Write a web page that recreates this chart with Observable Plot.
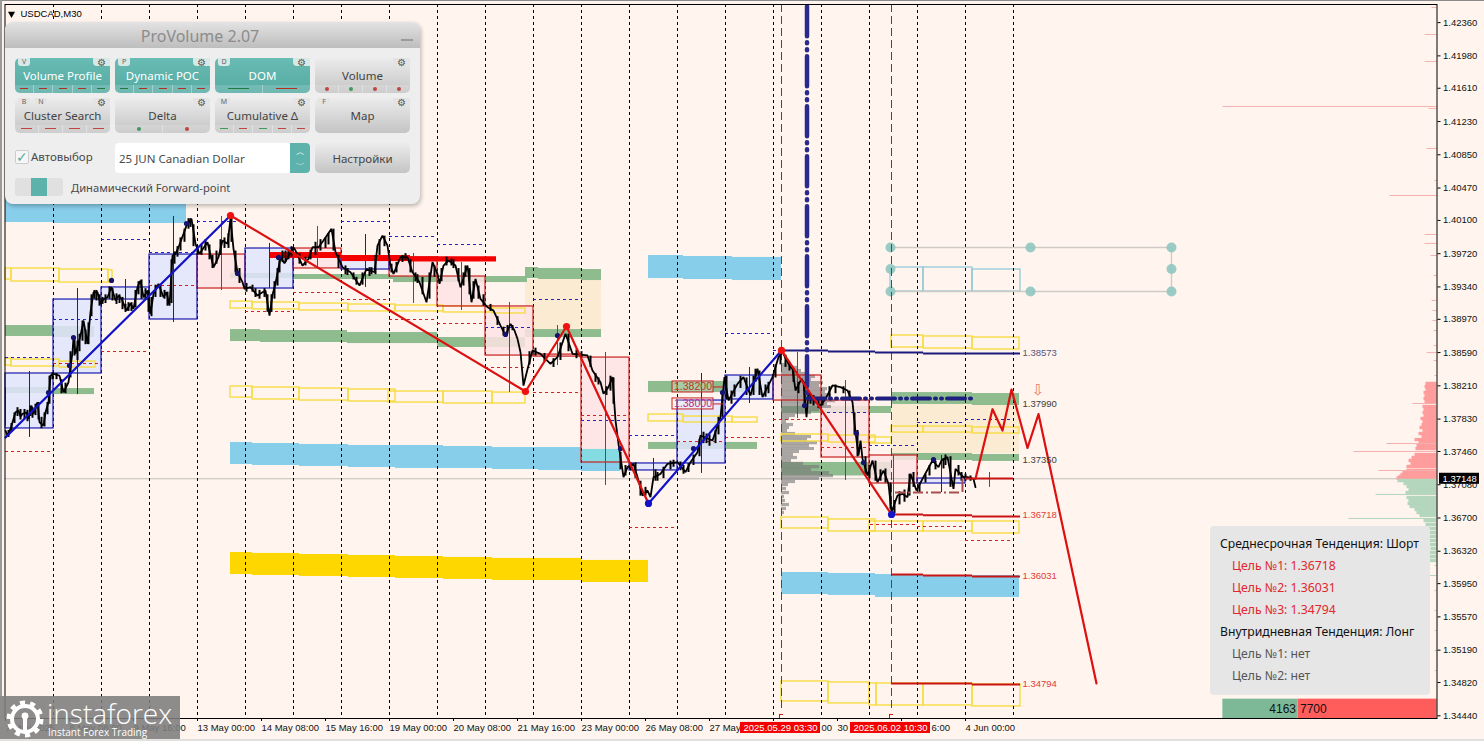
<!DOCTYPE html>
<html lang="ru">
<head>
<meta charset="utf-8">
<title>USDCAD,M30</title>
<script src="https://cdn.jsdelivr.net/npm/d3@7"></script>
<script src="https://cdn.jsdelivr.net/npm/@observablehq/plot@0.6"></script>
<style>
html,body{margin:0;padding:0;background:#FFF5EE;width:1484px;height:741px;overflow:hidden;font-family:"Liberation Sans",sans-serif}
#chart{position:absolute;left:0;top:0}
.edge{position:absolute;background:#9a9a9a}
#panel{position:absolute;left:5px;top:22px;width:415px;height:182px;border-radius:8px;background:#eeeeee;box-shadow:1px 2px 4px rgba(0,0,0,.28);font-family:"Noto Sans","Open Sans",sans-serif;color:#4a4a4a}
#ptitle{position:absolute;left:0;top:0;width:100%;height:26px;box-sizing:border-box;padding-right:25px;border-radius:8px 8px 0 0;background:linear-gradient(#e3e3e3,#bdbdbd);text-align:center;font-size:16px;line-height:28px;color:#8c8c8c}
#ptitle span{position:absolute;left:396px;top:17px;width:12px;height:2px;background:#9a9a9a}
.btn{position:absolute;width:95px;height:35px;border-radius:5px;font-size:11.5px;text-align:center;line-height:36px;background:linear-gradient(#ececec,#c4c4c4);color:#444}
.btn.on{background:linear-gradient(#69bcb4,#54aaa2);color:#fff}
.tab{position:absolute;top:0;height:8px;background:#e4e4e4;font-size:7px;line-height:8px;color:#666;border-radius:0 0 3px 3px;text-align:center;width:12px}
.gear{position:absolute;right:0;top:0;width:17px;height:8px;background:#e4e4e4;border-radius:0 0 0 4px;color:#555;font-size:10px;line-height:8px}
.strip{position:absolute;left:0;bottom:0;width:100%;height:8px;display:flex;background:rgba(255,255,255,.16);border-radius:0 0 5px 5px}
.strip i{flex:1;position:relative;display:block;border-right:1px solid rgba(255,255,255,.35)}
.strip i:last-child{border:0}
.strip i b{position:absolute;left:28%;right:28%;top:3px;height:1.2px}
.strip i u{position:absolute;left:50%;top:2px;width:4px;height:4px;margin-left:-2px;border-radius:50%}
.abs{position:absolute;white-space:nowrap}
#info{position:absolute;left:1210px;top:526px;width:220px;height:169px;border-radius:4px;background:#E6E6E6;font-family:"Noto Sans","Open Sans",sans-serif;font-size:12.2px}
#logo{position:absolute;left:0;top:696px;width:180px;height:45px;background:rgba(125,125,125,.88);color:#fff;font-family:"Open Sans",Lato,sans-serif}
</style>
</head>
<body>
<div id="chart"></div>
<script>
// x is a running count of M30 bars, y is the USDCAD price
const priceTicks=[1.4236,1.4198,1.4161,1.4123,1.4085,1.4047,1.401,1.3972,1.3934,1.3897,1.3859,1.3821,1.3783,1.3746,1.3708,1.367,1.3632,1.3595,1.3557,1.3519,1.3482,1.3444];
const timeTickBars=[5,69,133,197,261,325,389,453,517,581,645,709,773,837,901,965];
const timeTickLabels=["7 May 2025","8 May 08:00","9 May 16:00","13 May 00:00","14 May 08:00","15 May 16:00","19 May 00:00","20 May 08:00","21 May 16:00","23 May 00:00","26 May 08:00","27 May","","30","","4 Jun 00:00"];
const timeScraps=[[821,"00"],[931,"6:00"]];
const dayBars=[53,101,149,197,245,293,341,389,437,485,533,581,629,677,725,773,821,869,917,965,1013];
const pricePath=[[5,1.37698],[7,1.37640],[10,1.37717],[13,1.37832],[15,1.37908],[18,1.37927],[20,1.37860],[22,1.37889],[26,1.37908],[28,1.37832],[31,1.37984],[33,1.37889],[37,1.38022],[39,1.37794],[43,1.37755],[45,1.37908],[48,1.38022],[50,1.38327],[53,1.38346],[59,1.38327],[63,1.38136],[68,1.38251],[72,1.38594],[73,1.38765],[75,1.38575],[80,1.38784],[83,1.38956],[87,1.38689],[90,1.39051],[93,1.39279],[97,1.39279],[100,1.39146],[103,1.39200],[107,1.39222],[111,1.39337],[115,1.39184],[118,1.39240],[121,1.39203],[126,1.39070],[130,1.39150],[133,1.39089],[137,1.39337],[140,1.39413],[143,1.39222],[147,1.39298],[150,1.39032],[153,1.39260],[158,1.39375],[163,1.39222],[166,1.39279],[169,1.39127],[172,1.39699],[175,1.39718],[178,1.39794],[183,1.39946],[186,1.40041],[191,1.40118],[195,1.39832],[199,1.39718],[207,1.39851],[213,1.39565],[218,1.39680],[222,1.39870],[227,1.39832],[230,1.40118],[233,1.39775],[237,1.39508],[242,1.39394],[244,1.39318],[250,1.39337],[257,1.39241],[262,1.39280],[265,1.39299],[269,1.39013],[272,1.39250],[275,1.39379],[280,1.39676],[284,1.39610],[290,1.39733],[293,1.39791],[295,1.39756],[302,1.39584],[308,1.39661],[312,1.39794],[318,1.39794],[323,1.39870],[331,1.40004],[335,1.39737],[342,1.39565],[350,1.39508],[359,1.39356],[366,1.39546],[374,1.39508],[377,1.39813],[382,1.39927],[387,1.39813],[390,1.39584],[393,1.39489],[400,1.39680],[407,1.39680],[412,1.39508],[419,1.39394],[426,1.39165],[432,1.39623],[437,1.39489],[439,1.39375],[443,1.39584],[448,1.39642],[455,1.39584],[460,1.39337],[467,1.39584],[471,1.39165],[475,1.39432],[480,1.39203],[487,1.39108],[493,1.39070],[500,1.38899],[505,1.38784],[510,1.38918],[514,1.38842],[517,1.38746],[520,1.38594],[523,1.38213],[527,1.38400],[532,1.38614],[540,1.38576],[550,1.38462],[557,1.38538],[565,1.38805],[572,1.38576],[587,1.38557],[592,1.38386],[600,1.38252],[603,1.38119],[608,1.38195],[612,1.38309],[615,1.37814],[618,1.37547],[623,1.37166],[627,1.37281],[633,1.37319],[638,1.37128],[642,1.36957],[647,1.37014],[650,1.36938],[653,1.37166],[660,1.37204],[667,1.37319],[677,1.37338],[685,1.37223],[690,1.37338],[697,1.37452],[700,1.37643],[712,1.37585],[720,1.37852],[724,1.38309],[728,1.38043],[737,1.38233],[743,1.38309],[750,1.38100],[757,1.38405],[762,1.38081],[772,1.38309],[778,1.38538],[782,1.38595],[787,1.38481],[790,1.38424],[792,1.38404],[795,1.38157],[801,1.38290],[803,1.38252],[806,1.37852],[808,1.38138],[815,1.38023],[820,1.37985],[825,1.38061],[832,1.38214],[840,1.38195],[847,1.38157],[852,1.38023],[855,1.37680],[858,1.37414],[860,1.37585],[862,1.37376],[867,1.37185],[872,1.37357],[877,1.37109],[883,1.37242],[888,1.37090],[891,1.36766],[897,1.36957],[902,1.36976],[907,1.36938],[910,1.37204],[916,1.37014],[922,1.37147],[932,1.37357],[938,1.37280],[941,1.37357],[947,1.37395],[953,1.37033],[955,1.37261],[963,1.37166],[967,1.37166],[973,1.37147],[975,1.37052]];
const priceRangesA=[[8,1.3770,1.3762],[11,1.3778,1.3768],[14,1.3790,1.3778],[17,1.3796,1.3786],[20,1.3794,1.3782],[24,1.3794,1.3783],[27,1.3793,1.3780],[30,1.3798,1.3786],[32,1.3796,1.3784],[35,1.3800,1.3787],[38,1.3802,1.3782],[41,1.3785,1.3772],[44,1.3790,1.3774],[47,1.3802,1.3788],[49,1.3832,1.3800],[52,1.3836,1.3828],[56,1.3835,1.3828],[61,1.3828,1.3812],[65,1.3824,1.3812],[70,1.3860,1.3830],[74,1.3876,1.3855],[77,1.3872,1.3850],[79,1.3880,1.3860],[82,1.3895,1.3872],[85,1.3885,1.3868],[88,1.3893,1.3868],[91,1.3925,1.3900],[94,1.3930,1.3920],[96,1.3930,1.3918],[99,1.3925,1.3912],[102,1.3922,1.3914],[105,1.3925,1.3915],[109,1.3934,1.3920],[112,1.3932,1.3918],[116,1.3926,1.3914],[119,1.3925,1.3915],[122,1.3922,1.3908],[125,1.3914,1.3905],[128,1.3916,1.3906],[131,1.3916,1.3906],[135,1.3930,1.3910],[138,1.3940,1.3925],[141,1.3942,1.3920],[145,1.3932,1.3920],[148,1.3930,1.3905],[151,1.3922,1.3900],[155,1.3936,1.3922],[160,1.3935,1.3922],[164,1.3930,1.3920],[167,1.3928,1.3912],[171,1.3965,1.3915],[174,1.3974,1.3960],[177,1.3980,1.3968],[180,1.3990,1.3975],[184,1.4000,1.3985],[188,1.4012,1.4000],[190,1.4012,1.4002],[193,1.4005,1.3980],[197,1.3980,1.3970],[201,1.3982,1.3970],[205,1.3988,1.3975],[209,1.3982,1.3965],[212,1.3970,1.3955],[216,1.3975,1.3960],[220,1.3988,1.3970],[224,1.3990,1.3978],[228,1.3995,1.3978],[231,1.4012,1.3985],[235,1.3975,1.3950],[239,1.3955,1.3938],[246,1.3938,1.3928],[252,1.3936,1.3928],[255,1.3932,1.3922],[259,1.3930,1.3920],[264,1.3932,1.3922],[267,1.3925,1.3905],[271,1.3925,1.3905],[274,1.3940,1.3920],[277,1.3955,1.3935],[279,1.3968,1.3950],[282,1.3975,1.3962],[285,1.3975,1.3962],[288,1.3976,1.3965],[291,1.3980,1.3968]];
const priceRangesB=[[299,1.3972,1.3960],[305,1.3968,1.3958],[310,1.3976,1.3965],[315,1.3985,1.3970],[320,1.3988,1.3975],[325,1.3990,1.3978],[328,1.3995,1.3982],[333,1.4000,1.3975],[338,1.3970,1.3955],[345,1.3958,1.3948],[347,1.3955,1.3947],[353,1.3950,1.3942],[356,1.3945,1.3936],[362,1.3950,1.3936],[369,1.3956,1.3946],[371,1.3956,1.3948],[375,1.3970,1.3948],[379,1.3988,1.3970],[384,1.3992,1.3980],[391,1.3960,1.3950],[396,1.3962,1.3950],[402,1.3970,1.3962],[405,1.3972,1.3964],[410,1.3965,1.3950],[415,1.3950,1.3940],[417,1.3948,1.3938],[422,1.3945,1.3925],[429,1.3950,1.3920],[434,1.3958,1.3945],[441,1.3955,1.3940],[446,1.3968,1.3958],[451,1.3966,1.3958],[453,1.3965,1.3955],[458,1.3955,1.3940],[463,1.3950,1.3935],[465,1.3958,1.3945],[469,1.3955,1.3925],[473,1.3940,1.3920],[478,1.3935,1.3920],[483,1.3925,1.3912],[490,1.3914,1.3906],[497,1.3900,1.3890],[503,1.3888,1.3878],[507,1.3890,1.3880],[512,1.3890,1.3884],[529,1.3860,1.3845],[535,1.3864,1.3855],[544,1.3858,1.3848],[553,1.3852,1.3842],[560,1.3870,1.3850],[568,1.3880,1.3860],[576,1.3862,1.3852],[581,1.3860,1.3853],[590,1.3855,1.3842],[595,1.3835,1.3825],[598,1.3830,1.3822],[606,1.3820,1.3810],[610,1.3832,1.3815],[613,1.3830,1.3800],[620,1.3745,1.3725],[625,1.3730,1.3718],[630,1.3733,1.3724],[635,1.3733,1.3715],[640,1.3712,1.3695],[645,1.3705,1.3695]];
const priceRangesC=[[655,1.3725,1.3712],[657,1.3722,1.3712],[663,1.3728,1.3715],[670,1.3735,1.3725],[673,1.3736,1.3728],[680,1.3734,1.3724],[683,1.3730,1.3720],[688,1.3732,1.3722],[693,1.3742,1.3730],[699,1.3760,1.3740],[703,1.3768,1.3755],[706,1.3766,1.3755],[709,1.3765,1.3752],[715,1.3770,1.3755],[718,1.3785,1.3765],[722,1.3815,1.3785],[726,1.3832,1.3805],[731,1.3815,1.3800],[734,1.3822,1.3808],[740,1.3832,1.3818],[746,1.3830,1.3810],[753,1.3832,1.3810],[755,1.3840,1.3825],[759,1.3838,1.3810],[765,1.3822,1.3808],[768,1.3825,1.3812],[775,1.3845,1.3830],[780,1.3860,1.3845],[785,1.3856,1.3842],[789,1.3848,1.3838],[793,1.3840,1.3825],[798,1.3825,1.3812],[804,1.3825,1.3800],[810,1.3812,1.3800],[813,1.3810,1.3798],[818,1.3804,1.3795],[822,1.3805,1.3798],[829,1.3820,1.3805],[835,1.3822,1.3812],[843,1.3820,1.3812],[849,1.3815,1.3805],[854,1.3790,1.3765],[857,1.3770,1.3740],[865,1.3740,1.3720],[869,1.3730,1.3715],[875,1.3735,1.3712],[880,1.3725,1.3712],[885,1.3726,1.3710],[890,1.3710,1.3680],[894,1.3690,1.3675],[899,1.3700,1.3685],[904,1.3702,1.3688],[909,1.3720,1.3695],[913,1.3722,1.3705],[919,1.3710,1.3698],[925,1.3720,1.3710],[929,1.3730,1.3718],[935,1.3735,1.3725],[943,1.3738,1.3726],[945,1.3742,1.3730],[950,1.3740,1.3705],[958,1.3730,1.3718],[961,1.3722,1.3712],[965,1.3720,1.3712],[970,1.3718,1.3712]];
const pivotDots=[[48,1.38134],[69,1.38442],[73,1.38762],[111,1.39414],[186,1.40065],[237,1.39494],[278,1.39677],[505,1.38797],[557,1.38785],[620,1.37494],[693,1.37494],[722,1.38134],[804,1.37985],[856,1.37666],[863,1.37334],[933,1.37368]];
const blueCandles=[[5,53,1.38351,1.37723],[53,101,1.39196,1.38351],[101,149,1.39334,1.39196],[149,197,1.39710,1.38968],[245,293,1.39779,1.39322],[341,389,1.39677,1.39539],[629,677,1.37323,1.37243],[677,725,1.38042,1.37323],[725,773,1.38328,1.38054],[917,965,1.37151,1.37094]];
const blueWicks=[[29,1.38374,1.37620],[77,1.39322,1.38110],[125,1.39425,1.39048],[173,1.40145,1.38933],[269,1.39837,1.39322],[365,1.39939,1.39334],[653,1.37380,1.37151],[701,1.38351,1.37209],[749,1.38420,1.38008],[941,1.37414,1.36991]];
const redCandles=[[197,245,1.39710,1.39322],[293,341,1.39779,1.39551],[389,437,1.39677,1.39459],[437,485,1.39459,1.39117],[485,533,1.39117,1.38556],[533,581,1.38567,1.38544],[581,629,1.38533,1.37334],[773,821,1.38328,1.38042],[821,869,1.38042,1.37391],[869,917,1.37414,1.37094]];
const redWicks=[[5,1.38187,1.37755],[221,1.40145,1.39299],[317,1.40031,1.39551],[413,1.39722,1.39151],[461,1.39619,1.39071],[509,1.39162,1.38133],[557,1.38899,1.38442],[605,1.38591,1.37071],[797,1.38591,1.37837],[845,1.38271,1.37128],[893,1.37414,1.36786],[989,1.37220,1.37049]];
const blueDashes=[[5,52,1.38533],[53,100,1.38968],[101,147,1.39882],[149,196,1.39733],[197,243,1.40088],[341,388,1.40088],[389,435,1.39917],[437,483,1.39825],[485,530,1.38876],[533,578,1.39196],[581,628,1.37814],[629,675,1.37642],[725,772,1.38808],[773,785,1.38614],[821,867,1.37905],[869,915,1.37528],[917,962,1.37791],[965,1011,1.37825]];
const redDashes=[[5,50,1.37460],[53,100,1.38465],[101,147,1.38602],[149,196,1.39356],[245,290,1.39059],[293,340,1.39276],[341,388,1.39196],[389,435,1.38968],[437,483,1.38922],[485,530,1.38420],[533,578,1.38133],[581,628,1.37871],[629,675,1.36591],[677,723,1.37574],[725,772,1.37620],[773,820,1.37825],[821,867,1.37505],[870,916,1.36626],[917,963,1.36603],[965,1011,1.36443]];
const yellowBoxes=[[5,11,1.39551,1.39425],[11,59,1.39551,1.39402],[59,108,1.39539,1.39390],[108,112,1.39528,1.39390],[5,11,1.38521,1.38441],[11,59,1.38510,1.38431],[59,95,1.38487,1.38419],[230,252,1.39173,1.39094],[252,299,1.39162,1.39083],[299,348,1.39150,1.39071],[348,395,1.39139,1.39060],[395,443,1.39128,1.39060],[443,492,1.39117,1.39048],[492,525,1.39094,1.39037],[230,252,1.38202,1.38076],[252,299,1.38191,1.38054],[299,348,1.38179,1.38042],[348,395,1.38168,1.38031],[388,443,1.38145,1.38019],[443,492,1.38145,1.38008],[492,525,1.38133,1.38008],[648,683,1.37882,1.37803],[683,732,1.37859,1.37791],[732,757,1.37848,1.37791],[781,828,1.37654,1.37574],[828,875,1.37642,1.37562],[868,891,1.37620,1.37551],[781,828,1.36706,1.36580],[828,875,1.36683,1.36546],[869,923,1.36660,1.36546],[923,972,1.36660,1.36546],[972,1019,1.36660,1.36523],[891,923,1.38785,1.38648],[923,972,1.38774,1.38636],[972,1019,1.38762,1.38625],[891,923,1.37745,1.37676],[923,972,1.37745,1.37676],[972,1019,1.37734,1.37665],[781,828,1.34832,1.34604],[828,869,1.34821,1.34581],[869,876,1.34809,1.34558],[876,923,1.34809,1.34558],[923,972,1.34809,1.34558],[972,1020,1.34798,1.34547]];
const cyanBoxes=[[890,923,1.39562,1.39288],[923,972,1.39562,1.39288],[972,1020,1.39539,1.39288]];
const skyBands=[[5,53,1.40385,1.40076],[53,186,1.40385,1.40065],[230,252,1.37563,1.37311],[252,299,1.37551,1.37300],[299,348,1.37540,1.37289],[348,395,1.37528,1.37277],[395,443,1.37528,1.37266],[443,492,1.37517,1.37266],[492,538,1.37505,1.37254],[538,581,1.37505,1.37243],[581,620,1.37483,1.37231],[648,683,1.39699,1.39436],[683,732,1.39688,1.39425],[732,781,1.39677,1.39413],[781,828,1.36077,1.35826],[828,875,1.36066,1.35815],[875,923,1.36054,1.35792],[923,1019,1.36043,1.35792]];
const goldBands=[[230,252,1.36306,1.36054],[252,299,1.36295,1.36043],[299,348,1.36283,1.36032],[348,395,1.36272,1.36020],[395,443,1.36260,1.36009],[443,492,1.36249,1.35998],[492,581,1.36238,1.35986],[581,648,1.36215,1.35963]];
const greenBands=[[5,53,1.38899,1.38774],[53,94,1.38888,1.38762],[5,53,1.38191,1.38122],[53,94,1.38179,1.38110],[230,293,1.39494,1.39436],[293,393,1.39482,1.39425],[393,527,1.39459,1.39390],[230,260,1.38853,1.38716],[260,347,1.38842,1.38705],[347,437,1.38819,1.38693],[437,525,1.38762,1.38648],[525,538,1.39562,1.39436],[538,581,1.39551,1.39425],[581,601,1.39539,1.39413],[525,601,1.38853,1.38762],[648,757,1.38260,1.38133],[648,757,1.37563,1.37483],[781,891,1.37974,1.37894],[781,891,1.37334,1.37180],[891,972,1.38133,1.37997],[972,1019,1.38122,1.37985],[891,972,1.37437,1.37357],[972,1019,1.37426,1.37346]];
const beigeBands=[[525,601,1.39425,1.38853],[891,1019,1.37997,1.37437]];
const tintBands=[[581,620,1.37483,1.37334]];
const strongBars=[[270,341,1.39733,1.39665],[341,410,1.39699,1.39630],[410,496,1.39685,1.39625]];
const profile=[[1.38454,10],[1.38420,16],[1.38385,20],[1.38351,26],[1.38317,34],[1.38282,30],[1.38248,42],[1.38214,38],[1.38179,46],[1.38145,44],[1.38110,50],[1.38076,47],[1.38042,54],[1.38008,46],[1.37974,50],[1.37939,38],[1.37905,30],[1.37871,14],[1.37837,8],[1.37802,5],[1.37768,12],[1.37734,8],[1.37699,6],[1.37665,14],[1.37631,30],[1.37596,26],[1.37562,36],[1.37528,28],[1.37494,33],[1.37460,18],[1.37425,12],[1.37391,16],[1.37357,10],[1.37323,22],[1.37288,38],[1.37254,30],[1.37220,48],[1.37185,52],[1.37151,38],[1.37117,14],[1.37082,7],[1.37037,5],[1.36991,8],[1.36946,3],[1.36900,4],[1.36854,8],[1.36809,5],[1.36763,3]];
const askBook=[[1.38237,11],[1.38202,12],[1.38168,11],[1.38134,13],[1.38099,12],[1.38065,13],[1.38031,12],[1.37974,14],[1.37939,13],[1.37905,14],[1.37871,13],[1.37837,16],[1.37802,14],[1.37768,15],[1.37734,17],[1.37699,14],[1.37665,18],[1.37631,15],[1.37596,22],[1.37574,18],[1.37528,20],[1.37494,21],[1.37425,22],[1.37391,25],[1.37357,28],[1.37323,26],[1.37288,30],[1.37243,30],[1.37220,34],[1.37197,36],[1.37174,38],[1.37157,40]];
const askSpikes=[[1.38008,24],[1.37551,50],[1.37460,83],[1.37243,58],[1.38328,2],[1.38499,3],[1.38590,10],[1.38671,3],[1.38842,3],[1.38956,4],[1.39071,4],[1.39185,5],[1.39471,3],[1.39699,6],[1.39837,12],[1.39939,12],[1.40385,47],[1.40556,2],[1.40922,10],[1.41379,8],[1.41402,214],[1.41916,12],[1.42224,12],[1.42533,5]];
const bidBook=[[1.37128,39],[1.37094,33],[1.37060,30],[1.37026,28],[1.36991,31],[1.36934,30],[1.36900,28],[1.36866,29],[1.36832,27],[1.36797,22],[1.36763,20],[1.36729,17],[1.36671,13],[1.36626,11],[1.36580,12],[1.36534,10],[1.36489,11],[1.36443,11],[1.36397,9],[1.36352,6],[1.36306,8],[1.36260,9],[1.36215,9]];
const bidSpikes=[[1.36969,61],[1.36694,88],[1.36158,2],[1.36043,38],[1.35872,2],[1.35643,2],[1.35415,2],[1.35186,2],[1.34957,2]];
const blueTrend=[[5,1.37620],[230,1.40156]];
const upSwing=[[648,1.36866],[781,1.38614]];
const downSwings=[[[230,1.40156],[525,1.38145],[566,1.38888],[648,1.36866]],[[781,1.38614],[891,1.36740]]];
const forecast=[[975,1.37148],[992,1.37943],[1002,1.37699],[1011,1.38168],[1027,1.37500],[1038,1.37887],[1096,1.34809]];
const redPoints=[[230,1.40156],[525,1.38145],[566,1.38888],[781,1.38614]];
const bluePoints=[[648,1.36866],[891,1.36740]];
const navyLevel=[[781,828,1.38614],[828,875,1.38602],[875,923,1.38591],[923,1020,1.38579]];
const redLevels=[[891,923,1.36740],[923,972,1.36732],[972,1020,1.36717],[891,923,1.36054],[923,972,1.36043],[972,1020,1.36032],[891,972,1.34809],[972,1020,1.34798],[965,1013,1.37151]];
const levelTexts=["1.38573","1.37990","1.37350","1.36718","1.36031","1.34794"];
const levelPrices=[1.38573,1.3799,1.3735,1.36718,1.36031,1.34794];
const levelColors=["#55557f","#3c3c3c","#3c3c3c","#e23b3b","#e23b3b","#e23b3b"];
const tagPrices=[1.38197,1.38003];
const tagTexts=["1.38200","1.38000"];
const tagColors=["#b8391e","#c02a80"];
const gridDots=[[890,1.3979],[890,1.39545],[890,1.39288],[1030,1.3979],[1030,1.39288],[1171,1.3979],[1171,1.39545],[1171,1.39288]];
const lastPrice=1.37148;
const marketBuy=4163, marketSell=7700;
const bookEnd=1436.5, perLot=0.01805;

const topPrice=1.42567,bottomPrice=1.34409;
const box=(data,opts)=>Plot.rect(data,{x1:d=>d[0],x2:d=>d[1],y1:d=>d[2],y2:d=>d[3],...opts});
const seg=(data,opts)=>Plot.ruleY(data,{x1:d=>d[0],x2:d=>d[1],y:d=>d[2],...opts});
const wick=(data,opts)=>Plot.ruleX(data,{x:d=>d[0],y1:d=>d[1],y2:d=>d[2],...opts});
const path=(data,opts)=>Plot.line(data,{x:d=>d[0],y:d=>d[1],...opts});
const dots=(data,opts)=>Plot.dot(data,{x:d=>d[0],y:d=>d[1],...opts});
const book=(data,opts)=>Plot.ruleY(data,{y:d=>d[0],x1:bookEnd,x2:d=>bookEnd-d[1],...opts});

const chartSvg=Plot.plot({
  width:1484,height:741,marginLeft:4.5,marginRight:47.5,marginTop:4,marginBottom:23,
  style:{background:"transparent",fontFamily:"Liberation Sans, sans-serif",overflow:"visible"},
  x:{type:"linear",domain:[4.5,1436.5]},
  y:{type:"linear",domain:[bottomPrice,topPrice]},
  marks:[
    box(beigeBands,{fill:"#FCEBD3"}),
    box(skyBands,{fill:"#87CEEB"}),
    box(goldBands,{fill:"#FFD700"}),
    box(greenBands,{fill:"#8FBC8F"}),
    box(blueCandles,{fill:"#E1E5FC",fillOpacity:.85}),
    box(redCandles,{fill:"#FDE3E3",fillOpacity:.85}),
    box(tintBands,{fill:"#84DCE2"}),
    Plot.ruleY([lastPrice],{x1:4.5,x2:1436.5,stroke:"#c4bdb8",strokeWidth:1}),
    book(askBook,{stroke:"#FF9C9C",strokeWidth:3.4}),
    book(askSpikes,{stroke:"#F4B0B0",strokeWidth:1}),
    book(bidBook,{stroke:"#B3D6BC",strokeWidth:3.4}),
    book(bidSpikes,{stroke:"#B3D6BC",strokeWidth:1}),
    Plot.ruleY(profile,{y:d=>d[0],x1:781,x2:d=>781+d[1],stroke:"#777",strokeWidth:3.2,strokeOpacity:.62}),
    box(yellowBoxes,{fill:"none",stroke:"#F7DC45",strokeWidth:1.4}),
    box(cyanBoxes,{fill:"none",stroke:"#8CC6D6",strokeWidth:1.2}),
    Plot.ruleX(dayBars,{stroke:"#000",strokeWidth:1,strokeDasharray:"3,3"}),
    seg(blueDashes,{stroke:"#2222cc",strokeWidth:1.1,strokeDasharray:"3,3"}),
    seg(redDashes,{stroke:"#d82020",strokeWidth:1.1,strokeDasharray:"3,3"}),
    wick(redWicks,{stroke:"#c82020",strokeWidth:1}),
    wick(blueWicks,{stroke:"#1a1ab0",strokeWidth:1}),
    box(redCandles,{fill:"none",stroke:"#c82020",strokeWidth:1.2}),
    box(blueCandles,{fill:"none",stroke:"#1a1ab0",strokeWidth:1.2}),
    box(strongBars,{fill:"#F50000"}),
    seg([[890,1171,1.3979],[890,1171,1.39288]],{stroke:"#cfcac6",strokeWidth:1.4}),
    wick([[1171,1.3979,1.39288]],{stroke:"#cfcac6",strokeWidth:1.4}),
    dots(gridDots,{r:5,fill:"#8FC7C0",fillOpacity:.9}),
    wick([[781,topPrice,1.34501],[891,topPrice,1.34501]],{stroke:"#cc1414",strokeWidth:1,strokeDasharray:"8,4"}),
    wick([[779,1.34455,bottomPrice],[889,1.34455,bottomPrice]],{stroke:"#cc1414",strokeWidth:1}),
    seg([[779,783,1.34455],[889,893,1.34455]],{stroke:"#cc1414",strokeWidth:1}),
    path(pricePath,{stroke:"#000",strokeWidth:1.8,strokeLinejoin:"miter"}),
    wick(priceRangesA,{stroke:"#000",strokeWidth:2}),
    wick(priceRangesB,{stroke:"#000",strokeWidth:2}),
    wick(priceRangesC,{stroke:"#000",strokeWidth:2}),
    dots(pivotDots,{r:2.6,fill:"#14146e"}),
    seg([[895,962,1.36991]],{stroke:"#a85050",strokeWidth:2,strokeDasharray:"10,3,2,3"}),
    wick([[962,1.37151,1.36991]],{stroke:"#a85050",strokeWidth:2}),
    seg(navyLevel,{stroke:"#1b1b7d",strokeWidth:2}),
    seg(redLevels,{stroke:"#c81414",strokeWidth:2}),
    wick([[806.5,1.4254,1.38065]],{stroke:"#2a2a8e",strokeWidth:4.5,strokeDasharray:"30,6,1,6,1,6",strokeLinecap:"round"}),
    seg([[807,975,1.38065]],{stroke:"#1f1f80",strokeWidth:4,strokeDasharray:"18,5,1,5,1,5",strokeLinecap:"round"}),
    path(blueTrend,{stroke:"#1212c8",strokeWidth:2.2}),
    path(upSwing,{stroke:"#1212c8",strokeWidth:2.2}),
    ...downSwings.map(s=>path(s,{stroke:"#dc1010",strokeWidth:2.2})),
    path(forecast,{stroke:"#dc1010",strokeWidth:2.2}),
    dots(redPoints,{r:3.6,fill:"#f01010"}),
    dots(bluePoints,{r:3.6,fill:"#1212c8"}),
    // tags for round prices
    Plot.rect(tagPrices,{x1:672,x2:713,y1:d=>d+0.00063,y2:d=>d-0.00063,fill:"#FFF5EE",fillOpacity:.25,stroke:"#c82020",strokeWidth:1}),
    Plot.ruleY(tagPrices,{x1:713,x2:723,stroke:"#c82020"}),
    Plot.text(tagTexts,{x:692.5,y:(d,i)=>tagPrices[i],text:d=>d,fill:(d,i)=>tagColors[i],fontSize:10.5,textAnchor:"middle"}),
    // level captions
    Plot.text(levelTexts,{x:1022,y:(d,i)=>levelPrices[i],text:d=>d,fill:(d,i)=>levelColors[i],fontSize:9.5,textAnchor:"start",dy:-1}),
    Plot.text(["⇩"],{x:1037.5,y:1.38157,text:d=>d,fill:"#ee7a60",fontSize:15,fontFamily:"DejaVu Sans"}),
    // header
    Plot.text(["USDCAD,M30"],{x:20,y:1.4246,fill:"#000",fontSize:9.5,textAnchor:"start",text:d=>d}),
    Plot.dot([[11,1.4246]],{x:d=>d[0],y:d=>d[1],symbol:"triangle",r:2.6,fill:"#000",rotate:180}),
    // market volume bars
    Plot.rect([marketSell],{x1:d=>bookEnd-d*perLot,x2:bookEnd,y1:1.34630,y2:bottomPrice,fill:"#FF5C5C"}),
    Plot.rect([marketBuy],{x1:d=>bookEnd-marketSell*perLot-d*perLot,x2:bookEnd-marketSell*perLot,y1:1.34630,y2:bottomPrice,fill:"#7DB997"}),
    Plot.text([marketBuy],{x:bookEnd-marketSell*perLot-2,y:1.34520,text:d=>String(d),fontSize:12,textAnchor:"end",fill:"#111"}),
    Plot.text([marketSell],{x:bookEnd-marketSell*perLot+2,y:1.34520,text:d=>String(d),fontSize:12,textAnchor:"start",fill:"#111"}),
    Plot.frame({stroke:"#000",strokeWidth:1}),
    Plot.axisY(priceTicks,{anchor:"right",label:null,tickSize:3,tickPadding:3,tickFormat:d3.format(".5f"),fontSize:9.5,fill:"#111",stroke:"#000"}),
    Plot.axisX(timeTickBars,{anchor:"bottom",label:null,tickSize:3,tickPadding:3,tickFormat:(d,i)=>timeTickLabels[i],textAnchor:"start",fontSize:9.5,fill:"#111"}),
    Plot.text(timeScraps,{x:d=>d[0],y:1.34298,text:d=>d[1],fontSize:9.5,textAnchor:"start",fill:"#111"}),
    // server-time flags over the time axis
    Plot.rect([[740,820],[850,930]],{x1:d=>d[0],x2:d=>d[1],y1:1.34364,y2:1.34238,fill:"#f40000"}),
    Plot.text(["2025.05.29 03:30","2025.06.02 10:30"],{x:(d,i)=>[780,890][i],y:1.34298,text:d=>d,fill:"#fff",fontSize:9.5}),
    // current price flag
    Plot.rect([lastPrice],{x1:1439,x2:1479,y1:d=>d+0.00063,y2:d=>d-0.00063,fill:"#000"}),
    Plot.text([lastPrice],{x:1442,y:d=>d,text:d=>d3.format(".5f")(d),fill:"#fff",fontSize:9.5,textAnchor:"start"})
  ]
});
document.getElementById("chart").appendChild(chartSvg);

// ---- floating panels ----
const gDot="#3f9a5c",rDot="#c0453e",gw="#1f7d3c",rw="#b03020";
function strip(items,kind){
  return `<div class="strip">`+items.map(c=>`<i>${kind==="dot"?`<u style="background:${c}"></u>`:`<b style="background:${c}"></b>`}</i>`).join("")+`</div>`;
}
function btn(x,y,label,on,tabs,st,kind){
  const t=(tabs||[]).map((k,i)=>`<span class="tab" style="left:${3+i*17}px;background:${on?"#d8e8e6":"#e4e4e4"}">${k}</span>`).join("");
  return `<div class="btn${on?" on":""}" style="left:${x}px;top:${y}px">${t}<span class="gear" style="background:${on?"#d8e8e6":"#e4e4e4"}">⚙</span>${label}${st?strip(st,kind):""}</div>`;
}
let html=`<div id="ptitle">ProVolume 2.07<span></span></div>`;
html+=btn(10,36,"Volume Profile",true,["V"],[rw,rw,rw,rw,gw]);
html+=btn(110,36,"Dynamic POC",true,["P"],[gw,rw,rw,rw,rw]);
html+=btn(210,36,"DOM",true,["D"],[gw,rw]);
html+=btn(310,36,"Volume",false,[],[rDot,gDot,rDot,rDot],"dot");
html+=btn(10,76,"Cluster Search",false,["B","N"],[rDot,rDot,rDot,rDot]);
html+=btn(110,76,"Delta",false,[],[gDot,rDot],"dot");
html+=btn(210,76,"Cumulative Δ",false,["M"],[gDot,rDot,gDot,rDot,rDot]);
html+=btn(310,76,"Map",false,["F"]);
html+=`<div class="abs" style="left:10px;top:128px;width:12px;height:12px;background:#f6f6f6;border:1px solid #ccc;border-radius:2px;color:#4fb0a8;font-size:14px;line-height:11px">✓</div>`;
html+=`<div class="abs" style="left:26px;top:126px;font-size:11.5px;line-height:18px">Автовыбор</div>`;
html+=`<div class="abs" style="left:110px;top:121px;width:195px;height:30px;background:#fff;border-radius:4px;font-size:11.5px;line-height:31px;text-indent:4px;overflow:hidden">25 JUN Canadian Dollar<div style="position:absolute;right:0;top:0;width:20px;height:30px;background:#5db3ab;color:#fff;font-size:9px;line-height:13px;text-align:center;text-indent:0;padding-top:2px;box-sizing:border-box">︿<br>﹀</div></div>`;
html+=`<div class="btn" style="left:310px;top:121px;height:30px;line-height:31px">Настройки</div>`;
html+=`<div class="abs" style="left:10px;top:156px;width:48px;height:18px;background:#e0e0e0;border-radius:3px"><div style="position:absolute;left:16px;width:16px;height:18px;background:#5db3ab"></div></div>`;
html+=`<div class="abs" style="left:66px;top:157px;font-size:11.2px;line-height:17px">Динамический Forward-point</div>`;
const panelEl=document.createElement("div");panelEl.id="panel";panelEl.innerHTML=html;document.body.appendChild(panelEl);

const infoRows=[["Среднесрочная Тенденция: Шорт",10,18,"#111"],["Цель №1: 1.36718",22,40,"#e0262a"],["Цель №2: 1.36031",22,62,"#e0262a"],["Цель №3: 1.34794",22,84,"#e0262a"],["Внутридневная Тенденция: Лонг",10,106,"#111"],["Цель №1: нет",22,128,"#555"],["Цель №2: нет",22,150,"#555"]];
const infoEl=document.createElement("div");infoEl.id="info";
infoEl.innerHTML=infoRows.map(([t,x,y,c])=>`<div class="abs" style="left:${x}px;top:${y-9}px;line-height:18px;color:${c}">${t}</div>`).join("");
document.body.appendChild(infoEl);

const logoEl=document.createElement("div");logoEl.id="logo";
logoEl.innerHTML=`<svg width="44" height="45" style="position:absolute;left:6px;top:0"><circle cx="19" cy="23" r="13" fill="none" stroke="#fff" stroke-width="4"/><circle cx="19" cy="23" r="16" fill="none" stroke="#fff" stroke-width="5" stroke-dasharray="5,5"/><circle cx="19" cy="20" r="3.4" fill="#fff"/><rect x="17" y="22" width="4" height="12" fill="#fff"/></svg><div class="abs" style="left:47px;top:-5px;font-size:28px;line-height:44px;font-weight:300">instaforex</div><div class="abs" style="left:48px;top:29px;font-size:10px;line-height:14px">Instant Forex Trading</div>`;
document.body.appendChild(logoEl);

for(const [l,t,w,h,c] of [[0,0,1484,1,"#8a8a8a"],[0,0,2,696,"#9a9a9a"],[0,739,1484,2,"#e2e0de"]]){
  const d=document.createElement("div");d.className="edge";d.style.cssText=`left:${l}px;top:${t}px;width:${w}px;height:${h}px;background:${c}`;document.body.appendChild(d);
}
</script>
</body>
</html>
